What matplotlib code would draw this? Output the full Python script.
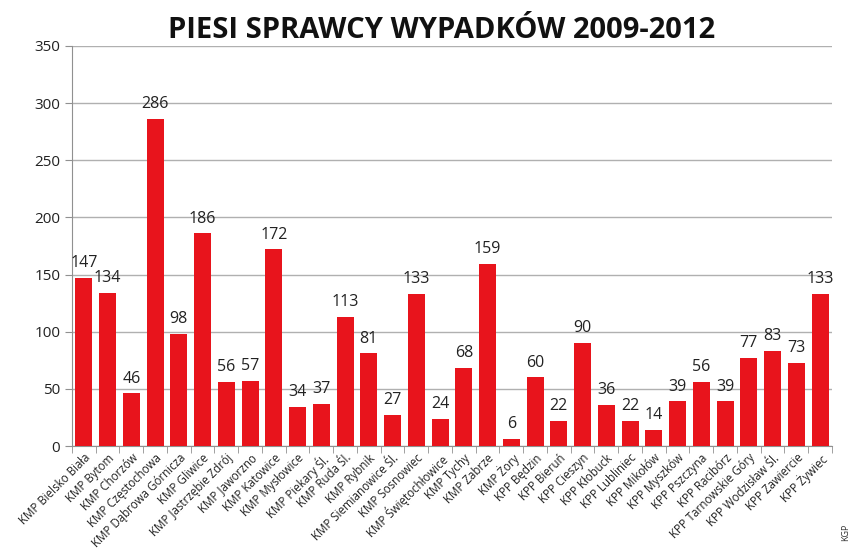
import numpy as np
import matplotlib.pyplot as plt

categories = [
    "KMP Bielsko Biała", "KMP Bytom", "KMP Chorzów", "KMP Częstochowa",
    "KMP Dąbrowa Górnicza", "KMP Gliwice", "KMP Jastrzębie Zdrój", "KMP Jaworzno",
    "KMP Katowice", "KMP Mysłowice", "KMP Piekary Śl.", "KMP Ruda Śl.",
    "KMP Rybnik", "KMP Siemianowice Śl.", "KMP Sosnowiec", "KMP Świętochłowice",
    "KMP Tychy", "KMP Zabrze", "KMP Żory", "KPP Będzin", "KPP Bieruń",
    "KPP Cieszyn", "KPP Kłobuck", "KPP Lubliniec", "KPP Mikołów", "KPP Myszków",
    "KPP Pszczyna", "KPP Racibórz", "KPP Tarnowskie Góry", "KPP Wodzisław Śl.",
    "KPP Zawiercie", "KPP Żywiec",
]
values = [147, 134, 46, 286, 98, 186, 56, 57, 172, 34, 37, 113, 81, 27, 133, 24,
          68, 159, 6, 60, 22, 90, 36, 22, 14, 39, 56, 39, 77, 83, 73, 133]

plt.rcParams['font.family'] = ['Open Sans', 'DejaVu Sans']

fig = plt.figure(figsize=(8.52, 5.58), dpi=100)
ax = fig.add_axes([0.0845, 0.2007, 0.892, 0.717])

x = np.arange(len(categories))
bars = ax.bar(x, values, width=0.72, color='#e8141c', zorder=3)

for xi, v in zip(x, values):
    ax.text(xi, v + 6, str(v), ha='center', va='bottom', fontsize=11.5, color='#222222')

ax.set_ylim(0, 350)
ax.set_xlim(-0.5, len(categories) - 0.5)
ax.set_yticks(range(0, 351, 50))
ax.yaxis.grid(True, color='#b0b0b0', linewidth=1, zorder=0)
ax.tick_params(axis='y', labelsize=11, color='#909090', length=5, labelcolor='#222222')

ax.set_xticks(x)
ax.set_xticklabels(categories, rotation=45, ha='right', rotation_mode='anchor',
                   fontsize=8.3, color='#222222')
ax.set_xticks(np.arange(-0.5, len(categories)), minor=True)
ax.tick_params(axis='x', which='major', length=0, pad=4)
ax.tick_params(axis='x', which='minor', length=5, color='#909090')

for s in ['top', 'right']:
    ax.spines[s].set_visible(False)
for s in ['left', 'bottom']:
    ax.spines[s].set_color('#909090')

fig.text(0.518, 0.945, "PIESI SPRAWCY WYPADKÓW 2009-2012", ha='center', va='center',
         fontsize=21, fontweight='bold', color='#111111')
fig.text(0.993, 0.03, "KGP", rotation=90, ha='center', va='bottom', fontsize=6.5,
         color='#333333')

fig.savefig('out.png', dpi=100)
